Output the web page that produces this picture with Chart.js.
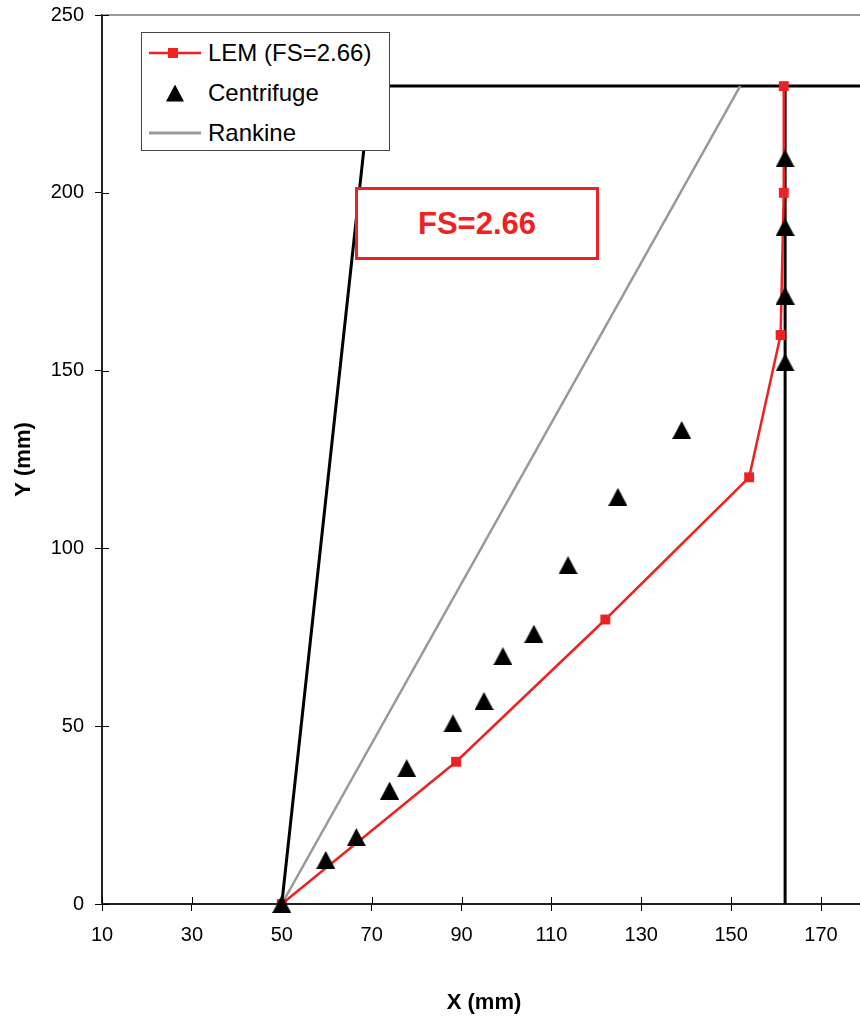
<!DOCTYPE html>
<html>
<head>
<meta charset="utf-8">
<title>LEM vs centrifuge</title>
<script src="https://cdn.jsdelivr.net/npm/chart.js@4.4.1/dist/chart.umd.min.js"></script>
<style>
  html, body { margin: 0; padding: 0; background: #fff; overflow: hidden; }
  #wrap { position: relative; width: 877px; height: 1016px; }
  #legend {
    position: absolute; left: 141px; top: 32px; width: 249px; height: 119px;
    box-sizing: border-box; border: 1px solid #444; background: #fff;
    font-family: "Liberation Sans", Arial, sans-serif; font-size: 24px; color: #000;
  }
  .row { display: flex; align-items: center; height: 40px; padding-left: 7px; white-space: nowrap; }
  .row svg { margin-right: 7px; flex: none; }
  #fsBox {
    position: absolute; left: 355px; top: 187px; width: 244px; height: 73px;
    box-sizing: border-box; border: 3px solid #ee2222; background: #fff;
    font-family: "Liberation Sans", Arial, sans-serif; font-weight: bold; font-size: 31px;
    color: #ee2222; display: flex; align-items: center; justify-content: center;
  }
</style>
</head>
<body>
<div id="wrap">
  <canvas id="chart" width="877" height="1016"></canvas>
  <div id="legend"></div>
  <div id="fsBox"></div>
</div>
<script>
const xTicks = [10, 30, 50, 70, 90, 110, 130, 150, 170];
const yTicks = [0, 50, 100, 150, 200, 250];

const fsValue = 2.66;

// LEM slip surface
const lemX = [50, 88.8, 122, 154, 161, 161.7, 161.7];
const lemY = [0, 40, 80, 120, 160, 200, 230];

// centrifuge test points
const centX = [50, 59.8, 66.6, 74, 77.8, 88.1, 95, 99.2, 106.1, 113.7, 124.8, 139, 162, 162, 162, 162];
const centY = [0, 12.4, 18.8, 31.9, 38.2, 50.8, 57.1, 69.7, 76, 95.3, 114.5, 133.3, 152.3, 171.1, 190.4, 209.7];

// Rankine wedge
const rankX = [50, 152];
const rankY = [0, 230];

// slope face + crest, and the wall
const slopeX = [50, 69.8, 180];
const slopeY = [0, 230, 230];
const wallX = [162, 162];
const wallY = [0, 230];

const red = '#ee2222';
const gray = '#999999';
const fontFam = '"Liberation Sans", Arial, sans-serif';

function pts(xs, ys) {
  return xs.map((x, i) => ({x: x, y: ys[i]}));
}

// filled triangle marker, centred on the point
const tri = document.createElement('canvas');
tri.width = 19;
tri.height = 18;
(function () {
  let c = tri.getContext('2d');
  c.fillStyle = '#000';
  c.beginPath();
  c.moveTo(0, 18);
  c.lineTo(9.5, 0);
  c.lineTo(19, 18);
  c.closePath();
  c.fill();
})();

const lemLabel = 'LEM (FS=' + fsValue + ')';

// small tick marks inside the plot + grey top border
const axisMarks = {
  id: 'axisMarks',
  beforeDatasetsDraw(chart) {
    const ctx = chart.ctx;
    const a = chart.chartArea;
    const sx = chart.scales.x, sy = chart.scales.y;
    ctx.save();
    ctx.strokeStyle = gray;
    ctx.lineWidth = 2;
    ctx.beginPath();
    ctx.moveTo(a.left, a.top);
    ctx.lineTo(a.right, a.top);
    ctx.stroke();
    ctx.strokeStyle = '#000';
    ctx.lineWidth = 1;
    ctx.beginPath();
    xTicks.forEach(v => {
      let px = Math.round(sx.getPixelForValue(v)) + 0.5;
      ctx.moveTo(px, a.bottom);
      ctx.lineTo(px, a.bottom - 7);
    });
    yTicks.forEach(v => {
      let py = Math.round(sy.getPixelForValue(v)) + 0.5;
      ctx.moveTo(a.left, py);
      ctx.lineTo(a.left + 7, py);
    });
    ctx.stroke();
    ctx.restore();
  }
};

const config = {
  type: 'scatter',
  data: {
    datasets: [
      {
        label: 'Centrifuge',
        data: pts(centX, centY),
        pointStyle: tri,
        pointRadius: 10,
        showLine: false,
        clip: false
      },
      {
        label: lemLabel,
        data: pts(lemX, lemY),
        showLine: true,
        borderColor: red,
        borderWidth: 2.5,
        backgroundColor: red,
        pointStyle: 'rect',
        pointRadius: 7,
        pointBorderWidth: 0,
        clip: false
      },
      {
        label: 'Rankine',
        data: pts(rankX, rankY),
        showLine: true,
        borderColor: gray,
        borderWidth: 2.5,
        pointRadius: 0
      },
      {
        label: 'slope',
        data: pts(slopeX, slopeY),
        showLine: true,
        borderColor: '#000',
        borderWidth: 3,
        pointRadius: 0
      },
      {
        label: 'wall',
        data: pts(wallX, wallY),
        showLine: true,
        borderColor: '#000',
        borderWidth: 3,
        pointRadius: 0
      }
    ]
  },
  options: {
    responsive: false,
    animation: false,
    events: [],
    layout: { padding: { left: 0, top: 15, right: 3, bottom: 0 } },
    plugins: {
      legend: { display: false },
      tooltip: { enabled: false }
    },
    scales: {
      x: {
        type: 'linear',
        min: 10,
        max: 180,
        afterBuildTicks: a => { a.ticks = xTicks.map(v => ({value: v})); },
        afterFit: a => { a.height = 112; },
        grid: { drawOnChartArea: false, tickLength: 7, color: '#000' },
        border: { color: '#222', width: 2 },
        ticks: { color: '#000', font: { family: fontFam, size: 20 }, padding: 12, maxRotation: 0, autoSkip: false },
        title: {
          display: true, text: 'X (mm)', color: '#000',
          font: { family: fontFam, size: 22, weight: 'bold', lineHeight: 1.2 },
          padding: { top: 0, bottom: 0 }
        }
      },
      y: {
        type: 'linear',
        min: 0,
        max: 250,
        afterBuildTicks: a => { a.ticks = yTicks.map(v => ({value: v})); },
        afterFit: a => { a.width = 102; },
        grid: { drawOnChartArea: false, tickLength: 7, color: '#000' },
        border: { color: '#222', width: 2 },
        // small lineHeight keeps the top label from pushing the plot down
        ticks: { color: '#000', font: { family: fontFam, size: 20, lineHeight: 0.3 }, padding: 11 },
        title: {
          display: true, text: 'Y (mm)', color: '#000',
          font: { family: fontFam, size: 22, weight: 'bold', lineHeight: 1.2 },
          padding: { top: 11, bottom: 0 }
        }
      }
    }
  },
  plugins: [axisMarks]
};

const myChart = new Chart(document.getElementById('chart'), config);

// legend box
const legendRows = [
  { text: lemLabel, svg: `<svg width="52" height="20"><line x1="0" y1="10" x2="52" y2="10" stroke="${red}" stroke-width="2.5"/><rect x="19" y="5" width="10" height="10" fill="${red}"/></svg>` },
  { text: 'Centrifuge', svg: `<svg width="52" height="20"><polygon points="17,18.5 26,1.5 35,18.5" fill="#000"/></svg>` },
  { text: 'Rankine', svg: `<svg width="52" height="20"><line x1="0" y1="10" x2="52" y2="10" stroke="${gray}" stroke-width="3"/></svg>` }
];
document.getElementById('legend').innerHTML = legendRows
  .map(r => `<div class="row">${r.svg}<span>${r.text}</span></div>`).join('');

document.getElementById('fsBox').textContent = 'FS=' + fsValue;
</script>
</body>
</html>
